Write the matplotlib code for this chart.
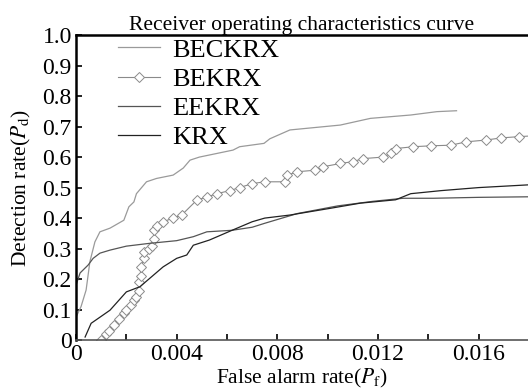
import numpy as np
import matplotlib
matplotlib.use('Agg')
import matplotlib.pyplot as plt
from matplotlib.ticker import FixedLocator

plt.rcParams['font.family'] = ['Liberation Serif', 'DejaVu Serif']
plt.rcParams['mathtext.fontset'] = 'stix'

# false alarm rate / detection rate pairs
beckrx_pf = [0.0, 0.0002, 0.0004, 0.00048, 0.00055, 0.00075, 0.00095, 0.00135, 0.0019,
             0.0021, 0.0023, 0.0024, 0.0028, 0.0032, 0.00386, 0.00426, 0.00453, 0.0049,
             0.00624, 0.0065, 0.00747, 0.0077, 0.0085, 0.0105, 0.0117, 0.0133, 0.01434, 0.01512]
beckrx_pd = [0.075, 0.11, 0.164, 0.213, 0.257, 0.322, 0.355, 0.367, 0.393,
             0.437, 0.453, 0.48, 0.519, 0.53, 0.541, 0.564, 0.59, 0.60,
             0.623, 0.634, 0.645, 0.66, 0.689, 0.705, 0.727, 0.738, 0.749, 0.752]

bekrx_pf = [0.001, 0.0012, 0.0013, 0.0015, 0.0017, 0.0019, 0.002, 0.0022, 0.0023, 0.0024,
            0.0025, 0.0025, 0.0026, 0.0026, 0.0027, 0.0027, 0.0029, 0.003, 0.0031, 0.0031,
            0.0032, 0.00346, 0.00386, 0.0042, 0.0048, 0.0052, 0.0056, 0.0061, 0.0065, 0.007,
            0.0075, 0.0083, 0.0084, 0.0088, 0.0095, 0.0098, 0.0105, 0.011, 0.0114, 0.0122,
            0.0125, 0.0127, 0.0134, 0.0141, 0.0149, 0.0155, 0.0163, 0.0169, 0.0176, 0.0182]
bekrx_pd = [0.0, 0.02, 0.03, 0.05, 0.07, 0.09, 0.10, 0.115, 0.13, 0.14,
            0.16, 0.19, 0.21, 0.24, 0.27, 0.29, 0.30, 0.31, 0.33, 0.36,
            0.375, 0.388, 0.40, 0.41, 0.459, 0.469, 0.48, 0.49, 0.50, 0.513,
            0.519, 0.519, 0.541, 0.552, 0.557, 0.568, 0.579, 0.585, 0.595, 0.60,
            0.612, 0.628, 0.634, 0.637, 0.639, 0.65, 0.656, 0.663, 0.667, 0.67]

eekrx_pf = [0.0, 0.00016, 0.00048, 0.00068, 0.00095, 0.00135, 0.002, 0.0029, 0.004,
            0.00466, 0.0052, 0.0062, 0.007, 0.0075, 0.0088, 0.0104, 0.0118, 0.013,
            0.0142, 0.016, 0.0182]
eekrx_pd = [0.18, 0.22, 0.246, 0.268, 0.285, 0.295, 0.308, 0.317, 0.326,
            0.339, 0.355, 0.36, 0.37, 0.383, 0.415, 0.44, 0.455, 0.465,
            0.465, 0.468, 0.47]

krx_pf = [0.00036, 0.0006, 0.00095, 0.00135, 0.002, 0.00254, 0.00346, 0.004, 0.0044,
          0.00466, 0.0053, 0.0062, 0.007, 0.0075, 0.0085, 0.0101, 0.0113, 0.0127,
          0.0133, 0.0145, 0.016, 0.0182]
krx_pd = [0.01, 0.055, 0.075, 0.098, 0.158, 0.175, 0.24, 0.268, 0.279,
          0.311, 0.328, 0.36, 0.388, 0.40, 0.41, 0.432, 0.449, 0.46,
          0.48, 0.49, 0.50, 0.51]

xticks = [0, 0.004, 0.008, 0.012, 0.016]
xticklabels = ['0', '0.004', '0.008', '0.012', '0.016']
yticks = [0, 0.1, 0.2, 0.3, 0.4, 0.5, 0.6, 0.7, 0.8, 0.9, 1.0]
yticklabels = ['0', '0.1', '0.2', '0.3', '0.4', '0.5', '0.6', '0.7', '0.8', '0.9', '1.0']

fig = plt.figure(figsize=(5.28, 3.90), dpi=100)
ax = fig.add_axes([0.144, 0.128, 0.856, 0.782])

ax.plot(beckrx_pf, beckrx_pd, color='#9a9a9a', lw=0.9, label='BECKRX')
ax.plot(bekrx_pf, bekrx_pd, color='#8a8a8a', lw=0.8, marker='D', markersize=5.5,
        markerfacecolor='white', markeredgecolor='#8a8a8a', markeredgewidth=0.7,
        label='BEKRX')
ax.plot(eekrx_pf, eekrx_pd, color='#555555', lw=0.9, label='EEKRX')
ax.plot(krx_pf, krx_pd, color='#222222', lw=0.9, label='KRX')

ax.set_xlim(0, 0.01796)
ax.set_ylim(0, 1.0)
ax.set_xticks(xticks)
ax.set_xticklabels(xticklabels)
ax.xaxis.set_minor_locator(FixedLocator([0.002, 0.006, 0.010, 0.014]))
ax.set_yticks(yticks)
ax.set_yticklabels(yticklabels)
ax.tick_params(which='both', direction='in', labelsize=17, width=1.2, length=4)
ax.tick_params(axis='x', pad=3)
ax.tick_params(axis='y', pad=3)

ax.spines['right'].set_visible(False)
ax.spines['top'].set_linewidth(1.8)
ax.spines['left'].set_linewidth(1.8)
ax.spines['bottom'].set_linewidth(1.2)
ax.spines['bottom'].set_color('#555555')

ax.set_xlabel(r'False alarm rate($P_{\rm f}$)', fontsize=15.5, labelpad=1)
ax.set_ylabel(r'Detection rate($P_{\rm d}$)', fontsize=15.5, labelpad=7)
ax.set_title('Receiver operating characteristics curve', fontsize=15.5, pad=3)

ax.legend(loc='upper left', frameon=False, fontsize=19, handlelength=1.6,
          handletextpad=0.45, labelspacing=0.22, borderaxespad=0.0,
          bbox_to_anchor=(0.07, 1.025))

fig.savefig('out.png', dpi=100)
